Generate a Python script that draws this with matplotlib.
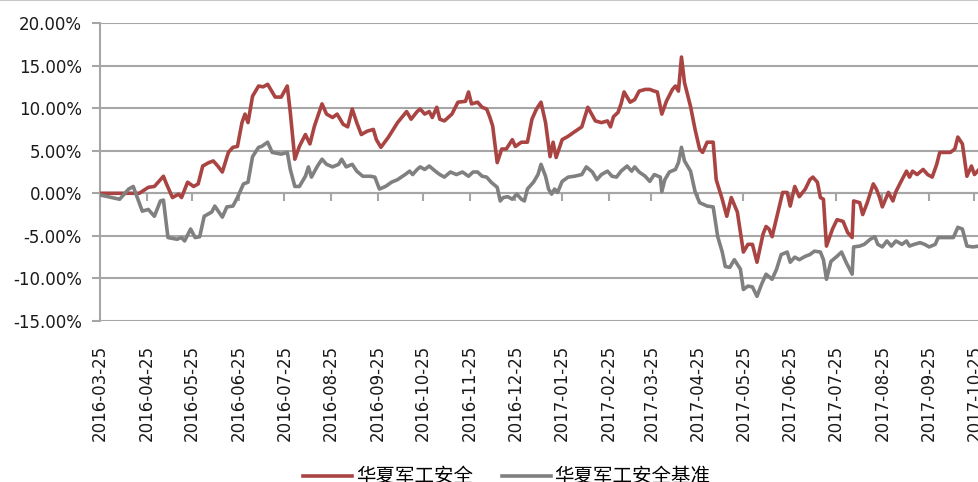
import matplotlib
matplotlib.use("Agg")
import matplotlib.pyplot as plt
import matplotlib.dates as mdates
from matplotlib.ticker import FuncFormatter, MultipleLocator
from matplotlib.font_manager import FontProperties
from matplotlib.lines import Line2D
import pandas as pd

series_names = ["华夏军工安全", "华夏军工安全基准"]

tick_labels = ["2016-03-25", "2016-04-25", "2016-05-25", "2016-06-25", "2016-07-25",
               "2016-08-25", "2016-09-25", "2016-10-25", "2016-11-25", "2016-12-25",
               "2017-01-25", "2017-02-25", "2017-03-25", "2017-04-25", "2017-05-25",
               "2017-06-25", "2017-07-25", "2017-08-25", "2017-09-25", "2017-10-25"]

fund_dates = [
    "2016-03-25", "2016-04-20", "2016-04-26", "2016-04-30", "2016-05-06", "2016-05-08",
    "2016-05-12", "2016-05-16", "2016-05-18", "2016-05-22", "2016-05-26", "2016-05-29",
    "2016-06-01", "2016-06-05", "2016-06-08", "2016-06-11", "2016-06-14", "2016-06-18",
    "2016-06-21", "2016-06-24", "2016-06-27", "2016-06-29", "2016-07-01", "2016-07-04",
    "2016-07-08", "2016-07-11", "2016-07-14", "2016-07-19", "2016-07-23", "2016-07-27",
    "2016-07-29", "2016-08-01", "2016-08-04", "2016-08-08", "2016-08-11", "2016-08-14",
    "2016-08-19", "2016-08-22", "2016-08-26", "2016-08-29", "2016-09-02", "2016-09-05",
    "2016-09-08", "2016-09-11", "2016-09-14", "2016-09-18", "2016-09-22", "2016-09-24",
    "2016-09-27", "2016-10-02", "2016-10-08", "2016-10-14", "2016-10-17", "2016-10-21",
    "2016-10-23", "2016-10-26", "2016-10-29", "2016-10-31", "2016-11-03", "2016-11-05",
    "2016-11-08", "2016-11-13", "2016-11-17", "2016-11-22", "2016-11-24", "2016-11-26",
    "2016-11-30", "2016-12-03", "2016-12-06", "2016-12-08", "2016-12-10", "2016-12-13",
    "2016-12-16", "2016-12-19", "2016-12-23", "2016-12-25", "2016-12-29", "2017-01-02",
    "2017-01-05", "2017-01-08", "2017-01-11", "2017-01-14", "2017-01-17", "2017-01-19",
    "2017-01-21", "2017-01-25", "2017-01-29", "2017-02-02", "2017-02-07", "2017-02-11",
    "2017-02-16", "2017-02-20", "2017-02-24", "2017-02-26", "2017-02-28", "2017-03-03",
    "2017-03-05", "2017-03-07", "2017-03-11", "2017-03-14", "2017-03-17", "2017-03-21",
    "2017-03-24", "2017-03-27", "2017-03-29", "2017-04-01", "2017-04-04", "2017-04-08",
    "2017-04-10", "2017-04-12", "2017-04-14", "2017-04-16", "2017-04-20", "2017-04-23",
    "2017-04-26", "2017-04-28", "2017-05-01", "2017-05-05", "2017-05-07", "2017-05-11",
    "2017-05-14", "2017-05-17", "2017-05-21", "2017-05-25", "2017-05-28", "2017-05-31",
    "2017-06-03", "2017-06-07", "2017-06-09", "2017-06-11", "2017-06-13", "2017-06-17",
    "2017-06-20", "2017-06-23", "2017-06-25", "2017-06-28", "2017-07-01", "2017-07-05",
    "2017-07-08", "2017-07-10", "2017-07-13", "2017-07-15", "2017-07-17", "2017-07-19",
    "2017-07-23", "2017-07-26", "2017-07-30", "2017-08-02", "2017-08-05", "2017-08-06",
    "2017-08-10", "2017-08-12", "2017-08-15", "2017-08-19", "2017-08-21", "2017-08-23",
    "2017-08-25", "2017-08-29", "2017-09-01", "2017-09-03", "2017-09-07", "2017-09-10",
    "2017-09-12", "2017-09-14", "2017-09-17", "2017-09-21", "2017-09-24", "2017-09-27",
    "2017-09-30", "2017-10-02", "2017-10-09", "2017-10-12", "2017-10-14", "2017-10-17",
    "2017-10-20", "2017-10-23", "2017-10-25", "2017-10-28"]

fund_values = [
    0.0, 0.0, 0.7, 0.8, 2.0, 1.1,
    -0.5, -0.1, -0.5, 1.3, 0.8, 1.1,
    3.2, 3.6, 3.8, 3.2, 2.5, 4.8,
    5.4, 5.5, 8.3, 9.3, 8.3, 11.4,
    12.6, 12.5, 12.8, 11.3, 11.3, 12.6,
    9.5, 4.0, 5.5, 6.9, 5.8, 7.9,
    10.5, 9.3, 8.9, 9.3, 8.1, 7.8,
    9.9, 8.3, 6.9, 7.3, 7.5, 6.3,
    5.4, 6.6, 8.3, 9.6, 8.7, 9.6,
    9.9, 9.3, 9.6, 8.9, 10.1, 8.7,
    8.5, 9.3, 10.7, 10.8, 11.9, 10.5,
    10.7, 10.1, 9.9, 9.0, 7.9, 3.6,
    5.2, 5.2, 6.3, 5.5, 6.0, 6.0,
    8.7, 9.9, 10.7, 8.3, 4.3, 6.0,
    4.2, 6.3, 6.7, 7.2, 7.8, 10.1,
    8.5, 8.3, 8.5, 7.8, 9.0, 9.5,
    10.5, 11.9, 10.7, 11.0, 12.0, 12.2,
    12.2, 12.0, 11.9, 9.3, 10.8, 12.2,
    12.6, 12.0, 16.0, 13.0, 10.2, 7.5,
    5.2, 4.8, 6.0, 6.0, 1.6, -0.7,
    -2.7, -0.5, -2.2, -6.9, -6.0, -6.0,
    -8.1, -4.8, -3.9, -4.2, -5.1, -2.1,
    0.1, 0.1, -1.5, 0.8, -0.4, 0.5,
    1.6, 1.9, 1.3, -0.5, -0.7, -6.2,
    -4.2, -3.1, -3.3, -4.6, -5.2, -0.9,
    -1.1, -2.5, -1.1, 1.1, 0.5, -0.4,
    -1.6, 0.1, -0.9, 0.2, 1.6, 2.6,
    1.9, 2.6, 2.2, 2.8, 2.2, 1.9,
    3.4, 4.8, 4.8, 5.2, 6.6, 5.8,
    2.0, 3.2, 2.2, 2.8]

bench_dates = [
    "2016-03-25", "2016-04-07", "2016-04-13", "2016-04-16", "2016-04-22", "2016-04-26",
    "2016-04-30", "2016-05-04", "2016-05-06", "2016-05-09", "2016-05-15", "2016-05-18",
    "2016-05-20", "2016-05-24", "2016-05-27", "2016-05-30", "2016-06-02", "2016-06-07",
    "2016-06-09", "2016-06-14", "2016-06-17", "2016-06-21", "2016-06-24", "2016-06-28",
    "2016-07-01", "2016-07-04", "2016-07-08", "2016-07-10", "2016-07-14", "2016-07-17",
    "2016-07-23", "2016-07-27", "2016-07-29", "2016-08-01", "2016-08-04", "2016-08-08",
    "2016-08-10", "2016-08-12", "2016-08-16", "2016-08-19", "2016-08-22", "2016-08-26",
    "2016-08-30", "2016-09-01", "2016-09-04", "2016-09-08", "2016-09-11", "2016-09-15",
    "2016-09-20", "2016-09-23", "2016-09-26", "2016-09-30", "2016-10-04", "2016-10-08",
    "2016-10-13", "2016-10-16", "2016-10-18", "2016-10-21", "2016-10-23", "2016-10-26",
    "2016-10-29", "2016-11-02", "2016-11-05", "2016-11-08", "2016-11-12", "2016-11-16",
    "2016-11-20", "2016-11-24", "2016-11-27", "2016-11-30", "2016-12-03", "2016-12-06",
    "2016-12-09", "2016-12-13", "2016-12-15", "2016-12-17", "2016-12-20", "2016-12-23",
    "2016-12-26", "2016-12-29", "2016-12-31", "2017-01-02", "2017-01-06", "2017-01-09",
    "2017-01-11", "2017-01-14", "2017-01-16", "2017-01-18", "2017-01-20", "2017-01-22",
    "2017-01-25", "2017-01-29", "2017-02-02", "2017-02-07", "2017-02-10", "2017-02-14",
    "2017-02-17", "2017-02-20", "2017-02-24", "2017-02-27", "2017-03-02", "2017-03-05",
    "2017-03-09", "2017-03-12", "2017-03-14", "2017-03-17", "2017-03-21", "2017-03-24",
    "2017-03-27", "2017-03-31", "2017-04-01", "2017-04-03", "2017-04-06", "2017-04-10",
    "2017-04-12", "2017-04-14", "2017-04-16", "2017-04-20", "2017-04-23", "2017-04-26",
    "2017-05-01", "2017-05-05", "2017-05-08", "2017-05-11", "2017-05-13", "2017-05-16",
    "2017-05-19", "2017-05-23", "2017-05-25", "2017-05-28", "2017-05-31", "2017-06-03",
    "2017-06-06", "2017-06-09", "2017-06-13", "2017-06-16", "2017-06-19", "2017-06-23",
    "2017-06-25", "2017-06-28", "2017-07-01", "2017-07-05", "2017-07-08", "2017-07-11",
    "2017-07-15", "2017-07-17", "2017-07-19", "2017-07-22", "2017-07-26", "2017-07-29",
    "2017-08-01", "2017-08-05", "2017-08-06", "2017-08-10", "2017-08-13", "2017-08-17",
    "2017-08-20", "2017-08-22", "2017-08-25", "2017-08-28", "2017-08-31", "2017-09-03",
    "2017-09-07", "2017-09-10", "2017-09-12", "2017-09-15", "2017-09-19", "2017-09-22",
    "2017-09-25", "2017-09-29", "2017-10-01", "2017-10-11", "2017-10-14", "2017-10-17",
    "2017-10-20", "2017-10-24", "2017-10-28"]

bench_values = [
    -0.2, -0.7, 0.5, 0.8, -2.1, -1.9,
    -2.7, -0.9, -0.8, -5.2, -5.4, -5.2,
    -5.6, -4.2, -5.2, -5.1, -2.7, -2.2,
    -1.5, -2.8, -1.6, -1.5, -0.5, 1.1,
    1.3, 4.3, 5.4, 5.5, 6.0, 4.8,
    4.6, 4.8, 2.8, 0.8, 0.8, 2.0,
    3.1, 1.9, 3.2, 4.0, 3.4, 3.1,
    3.4, 4.0, 3.1, 3.4, 2.6, 2.0,
    2.0, 1.9, 0.5, 0.8, 1.3, 1.6,
    2.2, 2.6, 2.2, 2.8, 3.1, 2.8,
    3.2, 2.6, 2.2, 1.9, 2.5, 2.2,
    2.5, 2.0, 2.5, 2.5, 2.0, 1.9,
    1.3, 0.7, -0.9, -0.5, -0.4, -0.7,
    -0.1, -0.7, -0.9, 0.5, 1.3, 2.2,
    3.4, 2.0, 0.5, -0.1, 0.5, 0.1,
    1.4, 1.9, 2.0, 2.2, 3.1, 2.5,
    1.6, 2.2, 2.6, 2.0, 1.9, 2.6,
    3.2, 2.6, 3.1, 2.5, 2.0, 1.4,
    2.2, 1.9, 0.2, 1.6, 2.5, 2.8,
    3.6, 5.4, 3.8, 2.6, 0.2, -1.1,
    -1.5, -1.6, -5.1, -6.9, -8.6, -8.7,
    -7.8, -8.9, -11.3, -10.9, -11.0, -12.1,
    -10.7, -9.5, -10.1, -8.9, -7.2, -6.9,
    -8.1, -7.5, -7.8, -7.4, -7.2, -6.8,
    -6.9, -7.8, -10.1, -8.0, -7.4, -6.9,
    -8.1, -9.5, -6.3, -6.2, -6.0, -5.4,
    -5.1, -6.0, -6.3, -5.6, -6.2, -5.6,
    -6.0, -5.6, -6.2, -6.0, -5.8, -6.0,
    -6.3, -6.0, -5.2, -5.2, -4.0, -4.2,
    -6.2, -6.3, -6.2]

GRID = "#A6A6A6"
TEXT = "#1A1A1A"

fig = plt.figure(figsize=(9.79, 4.82), dpi=100)
ax = fig.add_axes([100 / 979, 1 - 321 / 482, 879 / 979, 298 / 482])

ax.plot(pd.to_datetime(fund_dates), fund_values, color="#A94443", lw=2.6,
        solid_joinstyle="round", label=series_names[0], zorder=3)
ax.plot(pd.to_datetime(bench_dates), bench_values, color="#808080", lw=2.6,
        solid_joinstyle="round", label=series_names[1], zorder=3)

ymin, ymax = -15, 20
ax.set_ylim(ymin, ymax)
ax.set_xlim(mdates.date2num(pd.Timestamp("2016-03-25")),
            mdates.date2num(pd.Timestamp("2017-10-28")))
ax.yaxis.set_major_locator(MultipleLocator(5))
ax.yaxis.set_major_formatter(FuncFormatter(lambda v, p: f"{v:.2f}%"))
ax.grid(axis="y", color=GRID, lw=1.5)
ax.set_axisbelow(True)

for s in ["top", "right"]:
    ax.spines[s].set_visible(False)
ax.spines["left"].set_color(GRID)
ax.spines["left"].set_linewidth(1.5)
ax.spines["bottom"].set_position(("data", 0))
ax.spines["bottom"].set_color(GRID)
ax.spines["bottom"].set_linewidth(1.5)

ax.tick_params(axis="y", direction="out", length=6, width=1.5, color=GRID,
               pad=7, labelsize=12, labelcolor=TEXT)

tick_nums = mdates.date2num(pd.to_datetime(tick_labels))
ax.set_xticks(tick_nums)
ax.tick_params(axis="x", direction="out", length=6, width=1.5, color=GRID,
               labelbottom=False)

sec = ax.secondary_xaxis("bottom")
sec.set_xticks(tick_nums, labels=tick_labels)
sec.tick_params(axis="x", length=0, pad=17, labelsize=12, labelcolor=TEXT,
                labelrotation=90)
sec.spines["bottom"].set_visible(False)

cjk = FontProperties(family=["Noto Sans CJK SC", "DejaVu Sans"], size=14)
fig.legend(loc="center", bbox_to_anchor=(507 / 979, 5 / 482), ncol=2,
           frameon=False, prop=cjk, handlelength=2.5, handletextpad=0.2,
           columnspacing=1.5)

fig.add_artist(Line2D([0, 1], [0.999, 0.999], transform=fig.transFigure,
                      color="#C8C8C8", lw=1.5))

fig.savefig("out.png", dpi=100)
